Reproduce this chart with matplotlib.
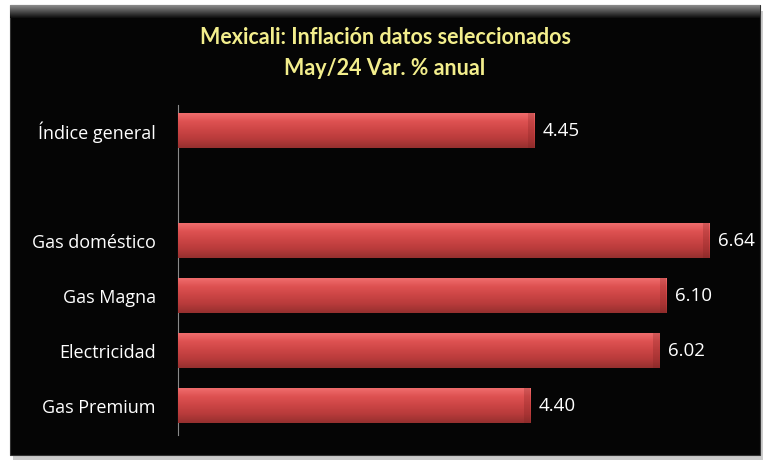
import numpy as np
import matplotlib
matplotlib.use('Agg')
import matplotlib.pyplot as plt
from matplotlib.patches import Rectangle
from matplotlib.colors import LinearSegmentedColormap

# data (bottom to top), the empty slot is the gap under "Índice general"
categorias = ['Gas Premium', 'Electricidad', 'Gas Magna', 'Gas doméstico', '', 'Índice general']
valores = [4.40, 6.02, 6.10, 6.64, None, 4.45]
titulo = 'Mexicali: Inflación datos seleccionados\nMay/24 Var. % anual'

fig = plt.figure(figsize=(7.7, 4.7), dpi=100)
fig.patch.set_facecolor('white')

# black panel with a grey bevel at top and a soft shadow
sombra = Rectangle((0.017, 0.022), 0.974, 0.955, transform=fig.transFigure,
                   facecolor='#9a9a9a', edgecolor='none', alpha=0.5, zorder=0)
fig.patches.append(sombra)
panel = Rectangle((0.013, 0.032), 0.974, 0.957, transform=fig.transFigure,
                  facecolor='#050505', edgecolor='#333333', lw=0.8, zorder=1)
fig.patches.append(panel)
bevel = fig.add_axes([0.013, 0.962, 0.974, 0.027], zorder=2)
bevel.imshow(np.linspace(0.55, 0.05, 50).reshape(-1, 1), cmap='gray', aspect='auto',
             extent=(0, 1, 0, 1), vmin=0, vmax=1)
bevel.axis('off')

fig.text(0.5, 0.887, titulo, ha='center', va='center', color='#F3EE8C',
         fontsize=15.5, fontweight='bold', family=['Lato', 'DejaVu Sans'],
         linespacing=1.55, zorder=5)

ax = fig.add_axes([0.231, 0.0745, 0.743, 0.7025], zorder=3)
ax.set_facecolor('none')

pos = np.arange(len(categorias))
vals = [v if v is not None else 0 for v in valores]
barras = ax.barh(pos, vals, height=0.64, color='#C94343', edgecolor='none', zorder=2)

rojo = LinearSegmentedColormap.from_list('rojo', ['#96302F', '#B83B3B', '#CC4545', '#DE5252', '#F27070'])
for b, v in zip(barras, valores):
    if v is None:
        b.set_visible(False)
        continue
    x0, y0 = b.get_x(), b.get_y()
    w, h = b.get_width(), b.get_height()
    im = ax.imshow(np.linspace(0, 1, 64).reshape(-1, 1), cmap=rojo, aspect='auto',
                   extent=(x0, x0 + w, y0, y0 + h), origin='lower', zorder=3)
    im.set_clip_path(b)
    # slightly darker right end
    ax.add_patch(Rectangle((x0 + w - 0.08, y0), 0.08, h, facecolor='#7a2020',
                           alpha=0.25, edgecolor='none', zorder=4))
    ax.text(x0 + w + 0.11, b.get_y() + h / 2, '{:.2f}'.format(v), va='center', ha='left',
            color='white', fontsize=13.5, family=['Open Sans', 'DejaVu Sans'])

ax.set_xlim(0, 7.15)
ax.set_ylim(-0.53, 5.47)
ax.set_yticks(pos)
ax.set_yticklabels(categorias, color='white', fontsize=13, family=['Open Sans', 'DejaVu Sans'])
ax.tick_params(axis='y', length=0, pad=16)
ax.set_xticks([])
for s in ['top', 'right', 'bottom']:
    ax.spines[s].set_visible(False)
ax.spines['left'].set_color('#8a8a8a')
ax.spines['left'].set_linewidth(0.8)

fig.savefig('out.png', dpi=100, facecolor=fig.get_facecolor())
